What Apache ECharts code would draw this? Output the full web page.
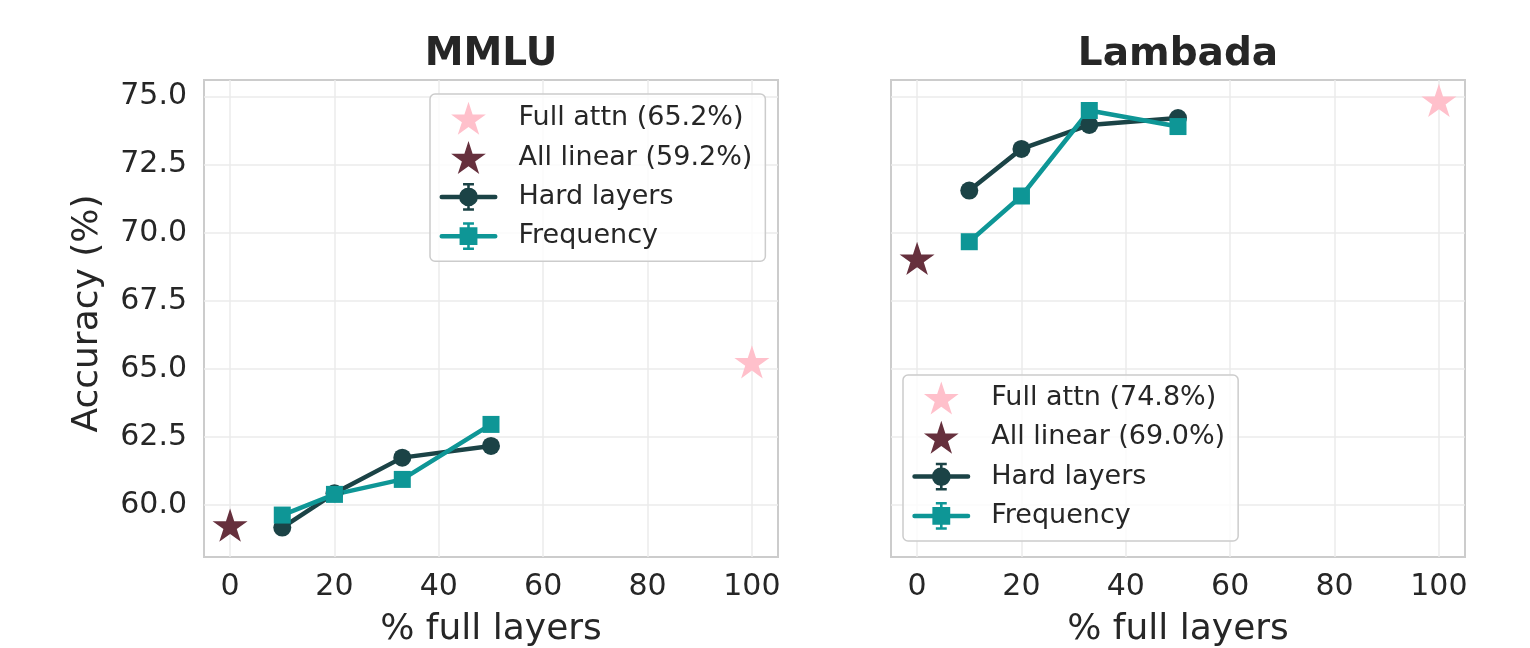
<!DOCTYPE html>
<html>
<head>
<meta charset="utf-8">
<title>Accuracy vs % full layers</title>
<script src="https://cdn.jsdelivr.net/npm/echarts@6/dist/echarts.min.js"></script>
<style>
  html, body { margin: 0; padding: 0; background: #fff; }
  #chart { width: 1530px; height: 648px; }
</style>
</head>
<body>
<div id="chart"></div>
<script>
// % of layers kept as full attention
const fullLayers = [10, 20, 33, 50];

const mmluHard = [59.17, 60.43, 61.74, 62.17];
const mmluFreq = [59.63, 60.39, 60.94, 62.96];
const mmluFullAttn = 65.2;
const mmluAllLinear = 59.2;

const lambadaHard = [71.55, 73.08, 73.96, 74.21];
const lambadaFreq = [69.67, 71.35, 74.49, 73.90];
const lambadaFullAttn = 74.8;
const lambadaAllLinear = 69.0;

const xTicks = [0, 20, 40, 60, 80, 100];
const yTicks = [60, 62.5, 65, 67.5, 70, 72.5, 75];

const C_HARD = '#1b4346';
const C_FREQ = '#0e9696';
const C_FULL = '#ffc0cb';
const C_LIN = '#66303d';
const TXT = '#262626';
const FONT = 'DejaVu Sans';

// 5-point star like matplotlib's '*' marker
const starPath = (() => {
  const pts = [];
  for (let i = 0; i < 10; i++) {
    const r = i % 2 === 0 ? 50 : 50 * 0.381966;
    const a = -Math.PI / 2 + i * Math.PI / 5;
    pts.push((r * Math.cos(a)).toFixed(2) + ',' + (r * Math.sin(a)).toFixed(2));
  }
  return 'path://M' + pts.join(' L') + ' Z';
})();

// legend icons: line + marker + errorbar caps
const barPart = 'M2,12.75 L56,12.75 A2.25,2.25 0 0 1 56,17.25 L2,17.25 A2.25,2.25 0 0 1 2,12.75 Z ' +
  'M27.7,1 L30.3,1 L30.3,29 L27.7,29 Z M23.5,1 L34.5,1 L34.5,3.5 L23.5,3.5 Z M23.5,26.5 L34.5,26.5 L34.5,29 L23.5,29 Z ';
const hardIcon = 'path://' + barPart + 'M38.5,15 A9.5,9.5 0 1 1 19.5,15 A9.5,9.5 0 1 1 38.5,15 Z';
const freqIcon = 'path://' + barPart + 'M20,6 L38,6 L38,24 L20,24 Z';

const pairs = (ys) => fullLayers.map((x, i) => [x, ys[i]]);

const chart = echarts.init(document.getElementById('chart'));

const gridBase = { top: 80, width: 574, height: 477, show: true, borderColor: '#cccccc', borderWidth: 2, backgroundColor: '#fff', outerBoundsMode: 'none' };

const makeX = (idx) => ({
  gridIndex: idx,
  type: 'value',
  min: -5,
  max: 105,
  splitNumber: 5,
  minInterval: 20,
  maxInterval: 20,
  axisLine: { show: false },
  axisTick: { show: false },
  axisLabel: {
    fontSize: 30, color: TXT, margin: 15,
    formatter: (v) => (xTicks.includes(v) ? String(v) : '')
  },
  splitLine: { show: true, showMinLine: false, showMaxLine: false, lineStyle: { color: '#ebebeb', width: 1.5 } },
  name: '% full layers',
  nameLocation: 'middle',
  nameGap: 55,
  nameTextStyle: { fontSize: 36, color: TXT }
});

const makeY = (idx, showLabels) => ({
  gridIndex: idx,
  type: 'value',
  min: 58.09,
  max: 75.61,
  splitNumber: 7,
  minInterval: 2.5,
  maxInterval: 2.5,
  axisLine: { show: false },
  axisTick: { show: false },
  axisLabel: {
    show: showLabels, fontSize: 30, color: TXT, margin: 17, padding: [8, 0, 0, 0],
    formatter: (v) => (yTicks.includes(v) ? v.toFixed(1) : '')
  },
  splitLine: { show: true, showMinLine: false, showMaxLine: false, lineStyle: { color: '#ebebeb', width: 1.5 } },
  name: showLabels ? 'Accuracy (%)' : '',
  nameLocation: 'middle',
  nameGap: 98,
  nameTextStyle: { fontSize: 36, color: TXT, padding: [0, 0, 0, 10] }
});

const starSeries = (name, idx, x, y, color) => ({
  type: 'scatter', name, xAxisIndex: idx, yAxisIndex: idx,
  data: [[x, y]],
  symbol: starPath, symbolSize: [35, 33.3], symbolOffset: [0, -1.6],
  itemStyle: { color, opacity: 1 }, z: 2
});

const lineSeries = (name, idx, ys, color, symbol, size) => ({
  type: 'line', name, xAxisIndex: idx, yAxisIndex: idx,
  data: pairs(ys),
  symbol, symbolSize: size, showAllSymbol: true,
  lineStyle: { width: 4.5, color },
  itemStyle: { color, opacity: 1 }, z: 3
});

const legendBase = {
  orient: 'vertical',
  selectedMode: false,
  itemWidth: 58,
  itemHeight: 33,
  itemGap: 6.3,
  backgroundColor: 'rgba(255,255,255,0.8)',
  borderColor: '#cccccc',
  borderWidth: 1.5,
  borderRadius: 5,
  itemStyle: { borderWidth: 0, opacity: 1 },
  textStyle: { fontSize: 27, color: TXT, lineHeight: 33, padding: [0, 0, 0, 16], fontFamily: FONT }
};

chart.setOption({
  animation: false,
  textStyle: { fontFamily: FONT },
  title: [
    { text: 'MMLU', left: 491, top: 35, textAlign: 'center', padding: 0,
      textStyle: { fontSize: 39, fontWeight: 'bold', color: TXT, fontFamily: FONT } },
    { text: 'Lambada', left: 1178, top: 35, textAlign: 'center', padding: 0,
      textStyle: { fontSize: 39, fontWeight: 'bold', color: TXT, fontFamily: FONT } }
  ],
  grid: [
    Object.assign({ left: 204 }, gridBase),
    Object.assign({ left: 891 }, gridBase)
  ],
  xAxis: [makeX(0), makeX(1)],
  yAxis: [makeY(0, true), makeY(1, false)],
  legend: [
    Object.assign({}, legendBase, {
      left: 430, top: 94, padding: [7.8, 13, 8.5, 9.5],
      data: [
        { name: 'Full attn (65.2%)', icon: starPath },
        { name: 'All linear (59.2%)', icon: starPath },
        { name: 'Hard layers', icon: hardIcon },
        { name: 'Frequency', icon: freqIcon }
      ]
    }),
    Object.assign({}, legendBase, {
      left: 903, top: 375, padding: [6.5, 13, 8.5, 9.3],
      data: [
        { name: 'Full attn (74.8%)', icon: starPath },
        { name: 'All linear (69.0%)', icon: starPath },
        { name: 'Hard layers', icon: hardIcon },
        { name: 'Frequency', icon: freqIcon }
      ]
    })
  ],
  series: [
    starSeries('Full attn (65.2%)', 0, 100, mmluFullAttn, C_FULL),
    starSeries('All linear (59.2%)', 0, 0, mmluAllLinear, C_LIN),
    lineSeries('Hard layers', 0, mmluHard, C_HARD, 'circle', 18),
    lineSeries('Frequency', 0, mmluFreq, C_FREQ, 'rect', 17),
    starSeries('Full attn (74.8%)', 1, 100, lambadaFullAttn, C_FULL),
    starSeries('All linear (69.0%)', 1, 0, lambadaAllLinear, C_LIN),
    lineSeries('Hard layers', 1, lambadaHard, C_HARD, 'circle', 18),
    lineSeries('Frequency', 1, lambadaFreq, C_FREQ, 'rect', 17)
  ]
});

window.addEventListener('resize', () => chart.resize());
</script>
</body>
</html>
